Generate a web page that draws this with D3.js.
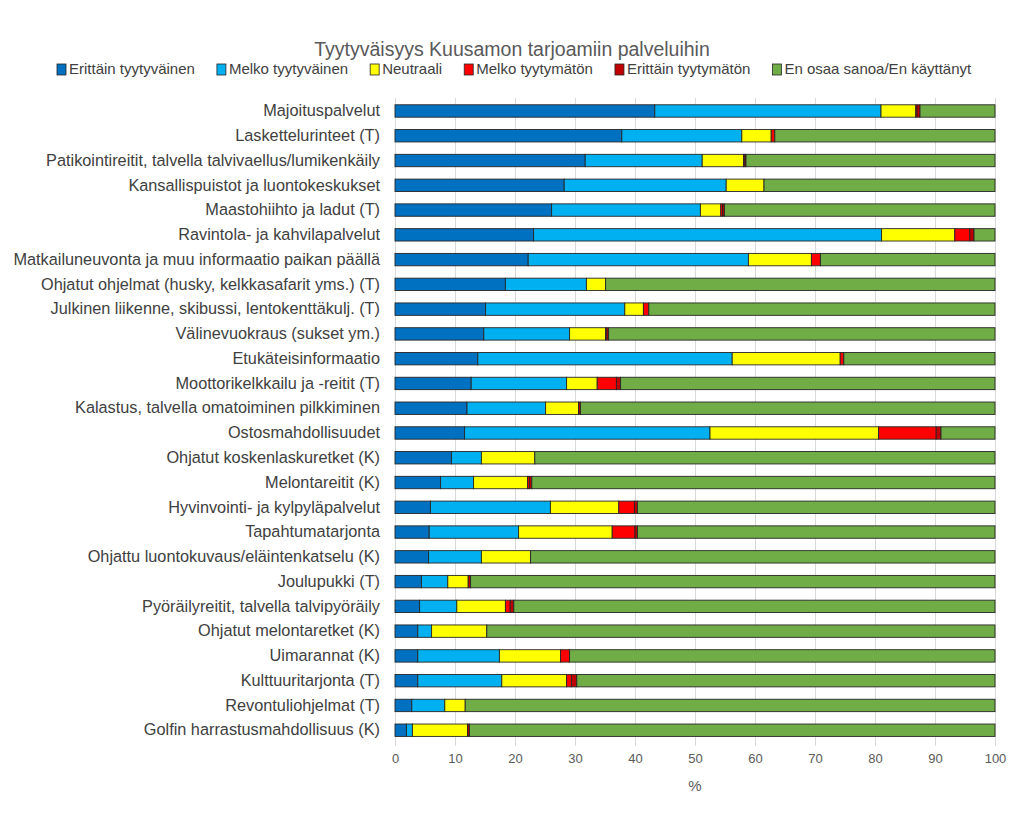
<!DOCTYPE html>
<html><head><meta charset="utf-8">
<script src="https://cdn.jsdelivr.net/npm/d3@7"></script>
<style>body{margin:0;background:#fff}svg{display:block}</style>
</head><body><svg id="chart" width="1024" height="816"></svg>
<script>
const categories = [
  "Majoituspalvelut","Laskettelurinteet (T)","Patikointireitit, talvella talvivaellus/lumikenkäily",
  "Kansallispuistot ja luontokeskukset","Maastohiihto ja ladut (T)","Ravintola- ja kahvilapalvelut",
  "Matkailuneuvonta ja muu informaatio paikan päällä","Ohjatut ohjelmat (husky, kelkkasafarit yms.) (T)",
  "Julkinen liikenne, skibussi, lentokenttäkulj. (T)","Välinevuokraus (sukset ym.)","Etukäteisinformaatio",
  "Moottorikelkkailu ja -reitit (T)","Kalastus, talvella omatoiminen pilkkiminen","Ostosmahdollisuudet",
  "Ohjatut koskenlaskuretket (K)","Melontareitit (K)","Hyvinvointi- ja kylpyläpalvelut","Tapahtumatarjonta",
  "Ohjattu luontokuvaus/eläintenkatselu (K)","Joulupukki (T)","Pyöräilyreitit, talvella talvipyöräily",
  "Ohjatut melontaretket (K)","Uimarannat (K)","Kulttuuritarjonta (T)","Revontuliohjelmat (T)",
  "Golfin harrastusmahdollisuus (K)"
];
const seriesNames = ["Erittäin tyytyväinen","Melko tyytyväinen","Neutraali","Melko tyytymätön","Erittäin tyytymätön","En osaa sanoa/En käyttänyt"];
const erittainTyytyvainen = [43.3,37.8,31.7,28.2,26.1,23.1,22.2,18.4,15.1,14.8,13.8,12.7,12.0,11.6,9.4,7.6,5.9,5.7,5.6,4.4,4.1,3.8,3.8,3.8,2.8,1.9];
const melkoTyytyvainen   = [37.7,20.0,19.5,27.0,24.8,58.0,36.7,13.5,23.2,14.3,42.4,15.9,13.1,40.9,5.0,5.5,20.0,14.9,8.8,4.4,6.2,2.3,13.6,14.0,5.5,1.0];
const neutraali          = [5.8,4.9,6.9,6.3,3.4,12.2,10.5,3.2,3.1,6.0,18.0,5.1,5.5,28.1,8.9,9.0,11.4,15.6,8.2,3.4,8.1,9.2,10.2,10.8,3.4,9.2];
const melkoTyytymaton    = [0.2,0.6,0.2,0,0.3,2.5,1.5,0,0.9,0.2,0.6,3.2,0,9.6,0,0.3,2.6,3.8,0,0,0.8,0,1.5,0.8,0,0];
const erittainTyytymaton = [0.5,0,0.2,0,0.3,0.7,0,0,0,0.3,0,0.7,0.3,0.8,0,0.4,0.5,0.4,0,0.4,0.6,0,0,0.9,0,0.3];
const enOsaaSanoa        = [12.5,36.7,41.5,38.5,45.1,3.5,29.1,64.9,57.7,64.4,25.2,62.4,69.1,9.0,76.7,77.2,59.6,59.6,77.4,87.4,80.2,84.7,70.9,69.7,88.3,87.6];
const xTicks = [0,10,20,30,40,50,60,70,80,90,100];
const colors = ["#0070c0","#00b0f0","#ffff00","#ff0000","#c00000","#70ad47"];

const seriesValues = [erittainTyytyvainen,melkoTyytyvainen,neutraali,melkoTyytymaton,erittainTyytymaton,enOsaaSanoa];
const rows = categories.map((c,i)=>{const o={cat:c}; seriesNames.forEach((s,j)=>o[s]=seriesValues[j][i]); return o;});
const stacked = d3.stack().keys(seriesNames)(rows);

const svg = d3.select("#chart");
const font = "'Liberation Sans', Arial, sans-serif";
const x = d3.scaleLinear().domain([0,100]).range([395,995]);
const y = d3.scaleBand().domain(categories).range([98.6,742.6]).paddingInner(0.5).paddingOuter(0.25);

// gridlines
svg.append("g").selectAll("line").data(xTicks).join("line")
  .attr("x1",d=>x(d)).attr("x2",d=>x(d)).attr("y1",98).attr("y2",746)
  .attr("stroke","#d9d9d9").attr("stroke-width",1).attr("shape-rendering","crispEdges");

// bars
svg.append("g").selectAll("g").data(stacked).join("g")
  .attr("fill",(d,i)=>colors[i])
  .selectAll("rect").data(d=>d).join("rect")
  .attr("x",d=>x(d[0])).attr("width",d=>Math.max(0,x(d[1])-x(d[0])))
  .attr("y",d=>y(d.data.cat)).attr("height",y.bandwidth())
  .attr("stroke",d=>(d[1]-d[0])>0?"#262626":"none").attr("stroke-width",0.9);

// x axis
const xAxis = d3.axisBottom(x).tickValues(xTicks).tickSize(0).tickPadding(0);
const gx = svg.append("g").attr("transform","translate(0,752)").call(xAxis);
gx.select(".domain").remove();
gx.selectAll("text").attr("font-family",font).attr("font-size",13).attr("fill","#595959").attr("dy","0.85em");

svg.append("text").attr("x",x(50)).attr("y",791).attr("text-anchor","middle")
  .attr("font-family",font).attr("font-size",15).attr("fill","#595959").text("%");

// y labels
const yAxis = d3.axisLeft(y).tickSize(0).tickPadding(0);
const gy = svg.append("g").attr("transform","translate(380,0)").call(yAxis);
gy.select(".domain").remove();
gy.selectAll("text").attr("font-family",font).attr("font-size",16.3).attr("fill","#404040");

// title
svg.append("text").attr("x",512).attr("y",56).attr("text-anchor","middle")
  .attr("font-family",font).attr("font-size",19.5).attr("fill","#595959")
  .text("Tyytyväisyys Kuusamon tarjoamiin palveluihin");

// legend
const lg = svg.append("g");
const items = lg.selectAll("g").data(seriesNames).join("g");
items.append("rect").attr("width",9).attr("height",11).attr("y",-10)
  .attr("fill",(d,i)=>colors[i]).attr("stroke","#262626").attr("stroke-width",0.8);
items.append("text").attr("x",12).attr("y",0).attr("font-family",font).attr("font-size",15)
  .attr("fill","#404040").text(d=>d);
let widths = [];
items.each(function(){widths.push(this.getBBox().width);});
const left = 57, right = 972;
const gap = (right-left-d3.sum(widths))/(widths.length-1);
let cx = left;
items.attr("transform",(d,i)=>{const t=`translate(${cx},74)`; cx+=widths[i]+gap; return t;});
</script></body></html>
